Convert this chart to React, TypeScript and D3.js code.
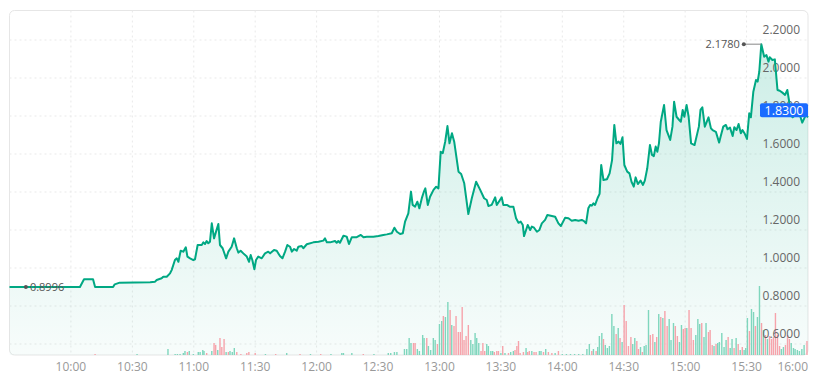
import React from 'react';
import * as d3 from 'd3';

// minutes after 09:30 and price
const priceMinutes = [0,34.4,36.4,40.8,41.8,50.6,51.4,53.8,68.7,71.1,71.9,74.3,75.1,76.8,78.4,79.2,80.8,81.7,82.5,83.6,84.9,86.1,86.9,88.2,89.8,90.6,91.9,93.9,94.7,95.5,96.3,97.1,97.9,98.8,99.9,102,102.8,104.1,105.8,106.9,108.5,109.7,111,111.8,112.9,114.2,115.9,117,117.8,118.6,119.6,120.4,121.5,123.2,124.8,126.4,127.3,129.2,130.5,132.1,133.3,134.6,135.7,137,137.9,139,140.3,141.1,142.7,143.5,145.2,148.4,150.9,153.3,154.1,155,156.6,159,159.8,160.6,161.4,163.1,164.7,165.8,167.2,169.6,171.6,172.9,174.5,177.7,180.2,182.6,184.3,186.7,188,189.2,190.8,192.1,193.2,194.8,196.1,196.9,198.1,199.2,200.2,201.5,202.5,203.1,204.3,205.4,207.1,208.4,209.5,210.6,211.6,212.8,213.9,214.9,216.1,217.2,219.3,220.6,222.1,224.1,225.8,227.9,229.9,231.8,233.1,233.9,235.5,237.2,238,240.4,241.2,242.9,244.5,246.1,247.4,248.6,249.7,250.7,251.3,252.3,253.1,254.3,255.1,256.2,257.6,258.8,260,261.6,262.7,264.9,266.5,268.1,269.3,271.4,273,274.6,276.3,277.9,279.5,280.6,281.6,282.7,283.6,284.4,285.2,286,287.2,288.2,289,290.1,291.8,293.1,294.3,295.4,296.4,297.5,298.4,299.4,300.3,301.7,302.8,303.8,304.9,305.8,306.9,308.2,309.4,310.3,311.5,312.8,313.8,314.7,315.6,316.4,317.2,318.1,319.7,320.9,322.7,323.8,324.6,325.8,327.1,327.9,328.8,329.6,330.7,331.7,332.9,334.6,336.7,337.5,338.4,339.6,340.4,341.4,342.6,343.4,345,346.6,347.4,348.6,349.9,350.7,351.9,353.2,354,355.1,356.1,357.2,358,359.2,360.2,361.3,362.1,363.3,364.6,365.4,366.2,367.2,368.6,369.7,370.7,371.3,372.6,373.8,375.1,376.2,377.5,378.8,379.9,381,382.4,384,386,387.2,388.9,390];
const prices = [0.8996,0.8996,0.9406,0.9406,0.8996,0.8996,0.914,0.923,0.925,0.928,0.937,0.946,0.954,0.954,0.972,0.989,1.042,1.051,1.033,1.091,1.086,1.109,1.06,1.051,1.042,1.046,1.121,1.121,1.135,1.126,1.142,1.13,1.138,1.235,1.156,1.232,1.121,1.104,1.051,1.086,1.112,1.156,1.104,1.081,1.091,1.077,1.06,1.033,1.068,1.042,0.993,1.042,1.06,1.051,1.077,1.086,1.077,1.095,1.091,1.063,1.051,1.086,1.121,1.112,1.086,1.1,1.091,1.112,1.116,1.104,1.125,1.135,1.138,1.144,1.156,1.135,1.135,1.142,1.133,1.142,1.133,1.17,1.165,1.126,1.162,1.162,1.174,1.162,1.165,1.165,1.168,1.174,1.177,1.183,1.212,1.191,1.179,1.183,1.244,1.288,1.402,1.332,1.323,1.349,1.314,1.372,1.405,1.419,1.332,1.375,1.411,1.428,1.419,1.612,1.604,1.665,1.747,1.656,1.709,1.665,1.507,1.495,1.446,1.284,1.367,1.454,1.411,1.367,1.358,1.326,1.332,1.372,1.332,1.372,1.332,1.332,1.322,1.323,1.262,1.238,1.244,1.226,1.168,1.2,1.226,1.2,1.218,1.212,1.191,1.2,1.235,1.253,1.279,1.274,1.27,1.235,1.221,1.265,1.262,1.249,1.253,1.249,1.253,1.247,1.235,1.314,1.332,1.328,1.34,1.332,1.367,1.39,1.542,1.463,1.467,1.498,1.568,1.753,1.656,1.665,1.653,1.688,1.542,1.507,1.498,1.454,1.428,1.477,1.442,1.46,1.437,1.46,1.525,1.647,1.595,1.589,1.639,1.612,1.656,1.77,1.858,1.726,1.674,1.744,1.875,1.796,1.779,1.77,1.832,1.796,1.858,1.796,1.656,1.647,1.744,1.832,1.846,1.744,1.765,1.793,1.735,1.726,1.717,1.66,1.695,1.744,1.753,1.73,1.739,1.695,1.741,1.726,1.758,1.709,1.726,1.705,1.679,1.814,1.793,1.928,1.989,1.981,2.033,2.178,2.112,2.121,2.086,2.109,2.095,2.098,1.937,1.933,1.923,1.911,1.937,1.863,1.793,1.805,1.805,1.765,1.805,1.793];

// volume bars: minute after 09:30, volume, up(1)/down(0)
const volMinutes = [41.8,62.3,77.4,80.9,82,83.3,84.9,85.7,86.9,87.8,89.8,92.2,93.1,94.4,95,96.3,98.8,99.9,100.7,101.7,102.8,103.7,104.8,105.8,106.9,107.7,108.8,109.8,111,113,115.9,116.9,120,125,130,135.4,141.9,147,152,157,162.3,163.1,167.2,172.8,178,185,186.2,188,189.2,192.9,194,195.2,196.1,197.3,198.1,199.2,200.2,201.8,202.5,203.8,204.6,205.7,207,207.9,209,210,211.1,211.9,212.9,214.1,215.2,216,217.1,218.1,219.2,220.2,221.1,222,223,224.1,225.3,226.3,227.4,228.2,229.2,230.3,231.2,232.1,233.1,233.9,235.1,236,236.8,238,238.8,240,240.9,242,243.7,244.8,246.1,246.9,247.8,248.6,249.4,251,252.3,253.1,253.9,255.1,256.2,257.2,258.8,259.6,260.8,261.9,263.2,264.9,266.5,268.1,270,272,274,276,278,280,282,283.2,284.4,285.2,286.5,287.3,288.1,289.3,290.1,291,292,293,294.2,295.2,296.3,297.3,298.2,299.2,300.2,301.2,302.3,303.5,304.4,305.4,306.4,307.2,308.2,309.1,310,310.9,312.1,313,314.2,315.2,316.1,317.1,318.1,319.1,320.1,321.2,322.2,323.1,324.3,325.2,326.2,327.2,328.2,329.1,330,330.8,331.9,332.9,334,335.2,336.2,337.1,338.1,339.2,340.2,341.4,342.2,343.2,344.1,345.1,345.9,346.7,347.9,349,350,351,352,352.9,353.9,354.9,355.9,356.9,357.9,358.8,359.6,360.4,361.4,362.4,363.4,364.3,365.3,366.3,367.3,368.2,369.2,370.2,371.2,372.2,373.1,374.1,375.1,376.1,377,378,379,380,380.9,381.8,382.9,383.7,384.8,385.8,387,388.1,389.5];
const volValues = [1,1,6,1,1,1,2,4,3,4,1,3,3,5,4,2,4,12,10,5,17,8,16,3,3,4,3,7,3,1,2,3,2,1,1,2,1,1,1,1,2,2,2,1,1,2,2,3,3,6,6,17,12,12,12,6,4,20,17,17,9,5,17,15,11,31,34,39,38,53,45,30,29,39,23,23,48,15,19,30,15,11,22,17,12,4,12,4,11,9,4,4,3,4,4,2,9,2,2,3,4,5,9,14,2,3,7,3,4,4,3,3,4,4,3,6,3,2,2,4,1,1,1,1,1,1,6,11,4,6,4,8,19,22,16,10,7,9,41,29,21,27,17,13,50,34,9,18,11,17,14,6,8,3,9,10,45,20,21,13,18,41,38,37,44,29,36,15,32,29,19,13,30,26,27,27,45,27,15,20,36,31,32,18,32,23,25,10,9,11,12,13,22,8,15,18,7,16,7,17,11,5,8,5,7,37,24,46,43,29,38,69,32,25,20,16,19,16,18,42,20,9,6,8,10,20,16,12,7,6,5,4,6,10,14];
const volUp = [0,1,1,1,1,1,1,1,0,1,1,1,1,1,1,0,1,0,0,1,0,0,0,1,0,1,1,1,0,0,0,0,0,1,0,1,0,1,0,1,1,1,1,0,1,1,1,1,1,1,1,1,1,0,0,1,1,1,1,0,1,1,1,1,0,1,1,0,1,1,0,1,0,0,0,0,0,0,0,0,1,1,1,1,1,0,0,0,1,1,1,1,0,0,0,1,0,1,0,1,1,0,0,0,0,0,1,0,0,1,0,0,1,1,0,1,0,0,1,0,1,1,1,1,1,1,1,1,0,1,0,1,1,1,0,1,1,1,1,1,0,1,0,1,0,0,0,0,1,1,0,0,1,0,1,1,1,0,0,1,0,1,0,1,0,0,1,1,1,0,0,1,1,0,0,1,0,0,0,1,1,1,0,1,1,0,0,0,1,0,1,1,1,1,1,0,1,1,0,1,0,1,0,1,1,1,0,1,1,0,1,1,0,1,0,1,0,0,0,0,0,0,1,1,0,0,0,1,1,1,1,1,1,1,0];

const yTicks = [0.6, 0.8, 1.0, 1.2, 1.4, 1.6, 1.8, 2.0, 2.2];
const xTickLabels = ['10:00','10:30','11:00','11:30','12:00','12:30','13:00','13:30','14:00','14:30','15:00','15:30','16:00'];
const openPrice = 0.8996;
const highPrice = 2.178;
const highMinute = 367.2;
const lastPrice = 1.83;

const FONT = "'Open Sans', 'Noto Sans', sans-serif";

function labelToMinute(s: string) {
  const [h, m] = s.split(':').map(Number);
  return (h - 9) * 60 + m - 30;
}

export default function App() {
  const W = 821, H = 381;
  const left = 9.5, right = 808, top = 10.5, bottom = 355;
  const x = d3.scaleLinear().domain([0, 390]).range([left, right]);
  const y = d3.scaleLinear().domain([0.6, 2.2]).range([344, 40]);
  const yv = d3.scaleLinear().domain([0, 100]).range([bottom, bottom - 100]);

  const data = priceMinutes.map((m, i) => ({ m, p: prices[i] }));
  const line = d3.line<any>().x(d => x(d.m)).y(d => y(d.p));
  const area = d3.area<any>().x(d => x(d.m)).y0(bottom).y1(d => y(d.p));

  const hx = x(highMinute), hy = y(highPrice);

  return (
    <svg width={W} height={H} style={{ position: 'absolute', left: 0, top: 0, background: '#fff' }} fontFamily={FONT}>
      <defs>
        <linearGradient id="ag" gradientUnits="userSpaceOnUse" x1="0" y1="40" x2="0" y2={bottom}>
          <stop offset="0" stopColor="#00a883" stopOpacity="0.2" />
          <stop offset="1" stopColor="#00a883" stopOpacity="0.03" />
        </linearGradient>
        <clipPath id="pc"><rect x={left} y={top} width={right - left} height={bottom - top} /></clipPath>
      </defs>
      <rect x={left} y={top} width={right - left} height={bottom - top} rx={5} fill="#fff" stroke="#e6e6e6" />
      {yTicks.map(t => (
        <line key={'gy' + t} x1={left} x2={right} y1={y(t)} y2={y(t)} stroke="#e9e9e9" strokeDasharray="2,3" />
      ))}
      {xTickLabels.slice(0, -1).map(l => (
        <line key={'gx' + l} x1={x(labelToMinute(l))} x2={x(labelToMinute(l))} y1={top} y2={bottom} stroke="#e9e9e9" strokeDasharray="2,3" />
      ))}
      <g clipPath="url(#pc)">
        <path d={area(data) || ''} fill="url(#ag)" />
        {volMinutes.map((m, i) => (
          <rect key={'v' + i} x={x(m) - 0.7} width={1.4} y={yv(volValues[i])} height={bottom - yv(volValues[i])}
            fill={volUp[i] ? '#7fd6bd' : '#f6a3ab'} />
        ))}
      </g>
      {yTicks.map(t => (
        <text key={'ly' + t} x={800} y={y(t) - 6} textAnchor="end" fontSize={12} fill="#666">{t.toFixed(4)}</text>
      ))}
      <path d={line(data) || ''} fill="none" stroke="#00a883" strokeWidth={2} strokeLinejoin="round" />
      {xTickLabels.map((l, i) => (
        <text key={'lx' + l} x={i === xTickLabels.length - 1 ? right : x(labelToMinute(l))} y={370.5}
          textAnchor={i === xTickLabels.length - 1 ? 'end' : 'middle'} fontSize={12} fill="#999">{l}</text>
      ))}
      <circle cx={x(8)} cy={y(openPrice)} r={2} fill="#555" />
      <text x={x(8) + 4} y={y(openPrice) + 4} fontSize={11} fill="#555">{openPrice.toFixed(4)}</text>
      <line x1={hx - 17.5} x2={hx} y1={hy} y2={hy} stroke="#888" />
      <circle cx={hx - 17.5} cy={hy} r={2} fill="#555" />
      <text x={hx - 21.5} y={hy + 4} textAnchor="end" fontSize={11} fill="#555">{highPrice.toFixed(4)}</text>
      <rect x={760} y={y(lastPrice) - 7} width={48} height={14} rx={2} fill="#1a6bff" />
      <text x={784} y={y(lastPrice) + 4.5} textAnchor="middle" fontSize={12.5} fill="#fff">{lastPrice.toFixed(4)}</text>
    </svg>
  );
}
